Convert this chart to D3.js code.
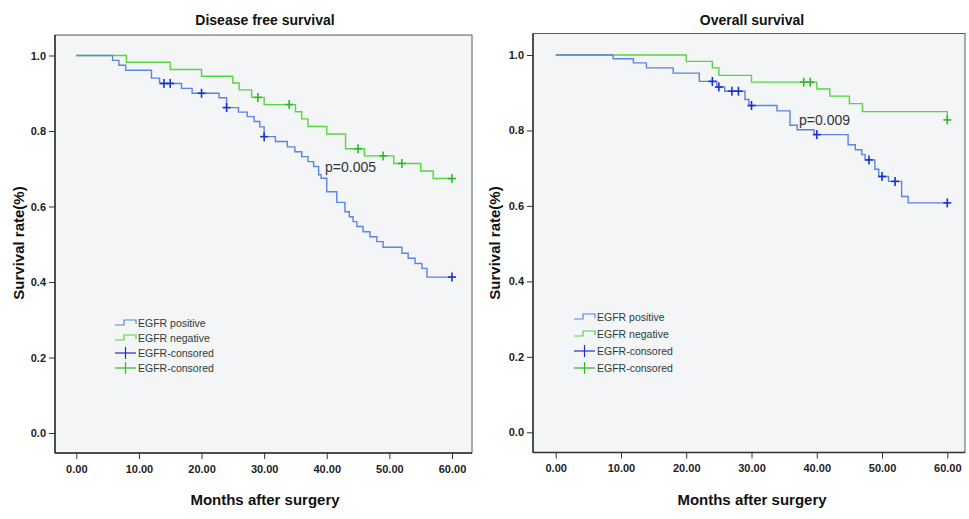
<!DOCTYPE html>
<meta charset="utf-8">
<head>
    <title>EGFR survival</title>
</head>
<style>
    body { margin: 0; background: #fff; }
    text { font-family: "Liberation Sans", Arial, sans-serif; }
    .tick text { font-size: 11px; font-weight: bold; fill: #222; }
    .title { font-size: 14px; font-weight: bold; fill: #111; }
    .axis-label { font-size: 15px; font-weight: bold; fill: #111; }
    .legend text { font-size: 10.5px; fill: #2d3a3a; }
    .pval { font-size: 14px; fill: #333; }
</style>
<body>
<script src="https://d3js.org/d3.v7.min.js"></script>
<script>
    // ---- data: [month, survival] at each event ----
    var xTicks = [0, 10, 20, 30, 40, 50, 60];
    var yTicks = [0, 0.2, 0.4, 0.6, 0.8, 1.0];
    var legendLabels = ["EGFR positive", "EGFR negative", "EGFR-consored", "EGFR-consored"];

    // disease free survival
    var dfsPositive = [[0,1],[5.8,0.987],[6.8,0.974],[7.9,0.961],[12,0.940],[13.3,0.926],
        [16.8,0.913],[18.5,0.900],[22.8,0.888],[24,0.862],[25.9,0.850],[27.3,0.838],
        [28.4,0.825],[29.3,0.811],[30,0.785],[31.8,0.772],[33.7,0.758],[34.9,0.745],
        [36,0.732],[37,0.719],[37.9,0.706],[38.7,0.684],[39.1,0.675],[40,0.639],
        [41.6,0.611],[42.9,0.586],[43.6,0.573],[44.2,0.560],[44.8,0.547],[45.8,0.533],
        [46.9,0.520],[48,0.507],[49,0.492],[52,0.476],[53,0.463],[54.1,0.449],
        [55.2,0.436],[56,0.413]];
    var dfsPositiveCensored = [14, 15, 20, 24, 30, 60];
    var dfsNegative = [[0,1],[8,0.982],[15,0.963],[20,0.945],[25,0.927],[26,0.909],
        [28,0.889],[30,0.870],[35,0.851],[36,0.832],[37,0.812],[40,0.792],[43,0.753],
        [46,0.734],[50.7,0.714],[55,0.694],[57,0.674]];
    var dfsNegativeCensored = [29, 34, 45, 49, 52, 60];

    // overall survival
    var osPositive = [[0,1],[8.8,0.990],[11.9,0.979],[13.9,0.966],[18,0.952],[22,0.930],
        [24.7,0.915],[25.9,0.904],[29,0.882],[29.6,0.866],[33.9,0.852],[35.9,0.814],
        [37,0.802],[39.6,0.789],[44.8,0.762],[45.9,0.749],[46.9,0.736],[47.4,0.722],
        [48.9,0.697],[49.5,0.678],[51,0.665],[53,0.625],[54,0.608]];
    var osPositiveCensored = [24, 25, 27, 28, 30, 40, 48, 50, 52, 60];
    var osNegative = [[0,1],[20,0.983],[24,0.966],[25,0.946],[30,0.928],[40,0.910],
        [42,0.891],[45,0.871],[47,0.850],[60,0.828]];
    var osNegativeCensored = [38, 39, 60];

    var blueLine = "#5b84e4", blueMark = "#1c2fd2";
    var greenLine = "#55d83c", greenMark = "#2fb82a";

    var svg = d3.select("body").append("svg")
        .attr("width", 969)
        .attr("height", 519);

    function survivalAt(events, t) {
        var v = 1;
        events.forEach(function (e) { if (e[0] <= t) v = e[1]; });
        return v;
    }

    function panel(opt) {
        var x = d3.scaleLinear().domain([0, 60]).range([opt.x0, opt.x60]);
        var y = d3.scaleLinear().domain([0, 1]).range([opt.y0, opt.y1]);
        var g = svg.append("g");

        g.append("rect")
            .attr("x", opt.left).attr("y", opt.top)
            .attr("width", opt.right - opt.left).attr("height", opt.bottom - opt.top)
            .attr("fill", "#f3f5f6")
            .attr("stroke", "#50605f").attr("stroke-width", 1);

        var yAxis = g.append("g")
            .attr("transform", "translate(" + opt.left + ",0)")
            .call(d3.axisLeft(y).tickValues(yTicks).tickFormat(d3.format(".1f")).tickSize(6).tickPadding(3));
        yAxis.select(".domain").remove();
        var xAxis = g.append("g")
            .attr("transform", "translate(0," + opt.bottom + ")")
            .call(d3.axisBottom(x).tickValues(xTicks).tickFormat(d3.format(".2f")).tickSize(6).tickPadding(6));
        xAxis.select(".domain").remove();
        g.selectAll(".tick line").attr("stroke", "#333");

        g.append("line").attr("x1", opt.left).attr("x2", opt.left)
            .attr("y1", opt.top).attr("y2", opt.bottom)
            .attr("stroke", "#2a3333").attr("stroke-width", 1.5);
        g.append("line").attr("x1", opt.left).attr("x2", opt.right)
            .attr("y1", opt.bottom).attr("y2", opt.bottom)
            .attr("stroke", "#2a3333").attr("stroke-width", 1.5);

        var step = d3.line()
            .x(function (d) { return x(d[0]); })
            .y(function (d) { return y(d[1]); })
            .curve(d3.curveStepAfter);

        var series = [
            {ev: opt.neg, cens: opt.negC, line: greenLine, mark: greenMark},
            {ev: opt.pos, cens: opt.posC, line: blueLine, mark: blueMark}
        ];
        series.forEach(function (s) {
            var pts = s.ev.concat([[60, s.ev[s.ev.length - 1][1]]]);
            g.append("path")
                .attr("d", step(pts))
                .attr("fill", "none")
                .attr("stroke", s.line)
                .attr("stroke-width", 1.4);
            var m = g.selectAll(null).data(s.cens).enter().append("g")
                .attr("transform", function (t) {
                    return "translate(" + x(t) + "," + y(survivalAt(s.ev, t)) + ")";
                });
            m.append("line").attr("x1", -4).attr("x2", 4).attr("y1", 0).attr("y2", 0)
                .attr("stroke", s.mark).attr("stroke-width", 1.6);
            m.append("line").attr("x1", 0).attr("x2", 0).attr("y1", -4.5).attr("y2", 4.5)
                .attr("stroke", s.mark).attr("stroke-width", 1.6);
        });

        g.append("text").attr("class", "title")
            .attr("x", opt.titleX).attr("y", 25)
            .attr("text-anchor", "middle").text(opt.title);
        g.append("text").attr("class", "axis-label")
            .attr("x", opt.titleX).attr("y", 505)
            .attr("text-anchor", "middle").text("Months after surgery");
        g.append("text").attr("class", "axis-label")
            .attr("transform", "translate(" + opt.yLabelX + ",243) rotate(-90)")
            .attr("text-anchor", "middle").text("Survival rate(%)");

        g.append("text").attr("class", "pval")
            .attr("x", opt.pX).attr("y", opt.pY).text(opt.pText);

        // legend
        var lg = g.append("g").attr("class", "legend");
        var colors = [blueLine, greenLine, blueMark, greenMark];
        legendLabels.forEach(function (lab, i) {
            var yy = opt.legY + i * opt.legGap;
            var lx = opt.legX, w = 21;
            if (i < 2) {
                lg.append("path")
                    .attr("d", "M" + lx + "," + (yy + 2) + "H" + (lx + 9) + "V" + (yy - 3) +
                        "H" + (lx + w) + "V" + (yy + 1))
                    .attr("fill", "none").attr("stroke", colors[i]).attr("stroke-width", 1.2);
            } else {
                lg.append("line").attr("x1", lx).attr("x2", lx + w).attr("y1", yy).attr("y2", yy)
                    .attr("stroke", colors[i]).attr("stroke-width", 1.2);
                lg.append("line").attr("x1", lx + w / 2).attr("x2", lx + w / 2)
                    .attr("y1", yy - 6).attr("y2", yy + 6)
                    .attr("stroke", colors[i]).attr("stroke-width", 1.2);
            }
            lg.append("text").attr("x", lx + w + 2).attr("y", yy + 4).text(lab);
        });
    }

    panel({
        left: 55, right: 472, top: 35, bottom: 453,
        x0: 76.3, x60: 452, y0: 433, y1: 55.5,
        title: "Disease free survival", titleX: 265, yLabelX: 24,
        pos: dfsPositive, posC: dfsPositiveCensored,
        neg: dfsNegative, negC: dfsNegativeCensored,
        pText: "p=0.005", pX: 325, pY: 172,
        legX: 115, legY: 323, legGap: 15
    });
    panel({
        left: 533, right: 965, top: 33.5, bottom: 452.5,
        x0: 555.7, x60: 947.3, y0: 432.3, y1: 55,
        title: "Overall survival", titleX: 752, yLabelX: 500,
        pos: osPositive, posC: osPositiveCensored,
        neg: osNegative, negC: osNegativeCensored,
        pText: "p=0.009", pX: 799, pY: 125,
        legX: 574, legY: 317, legGap: 17
    });
</script>
</body>
</html>
